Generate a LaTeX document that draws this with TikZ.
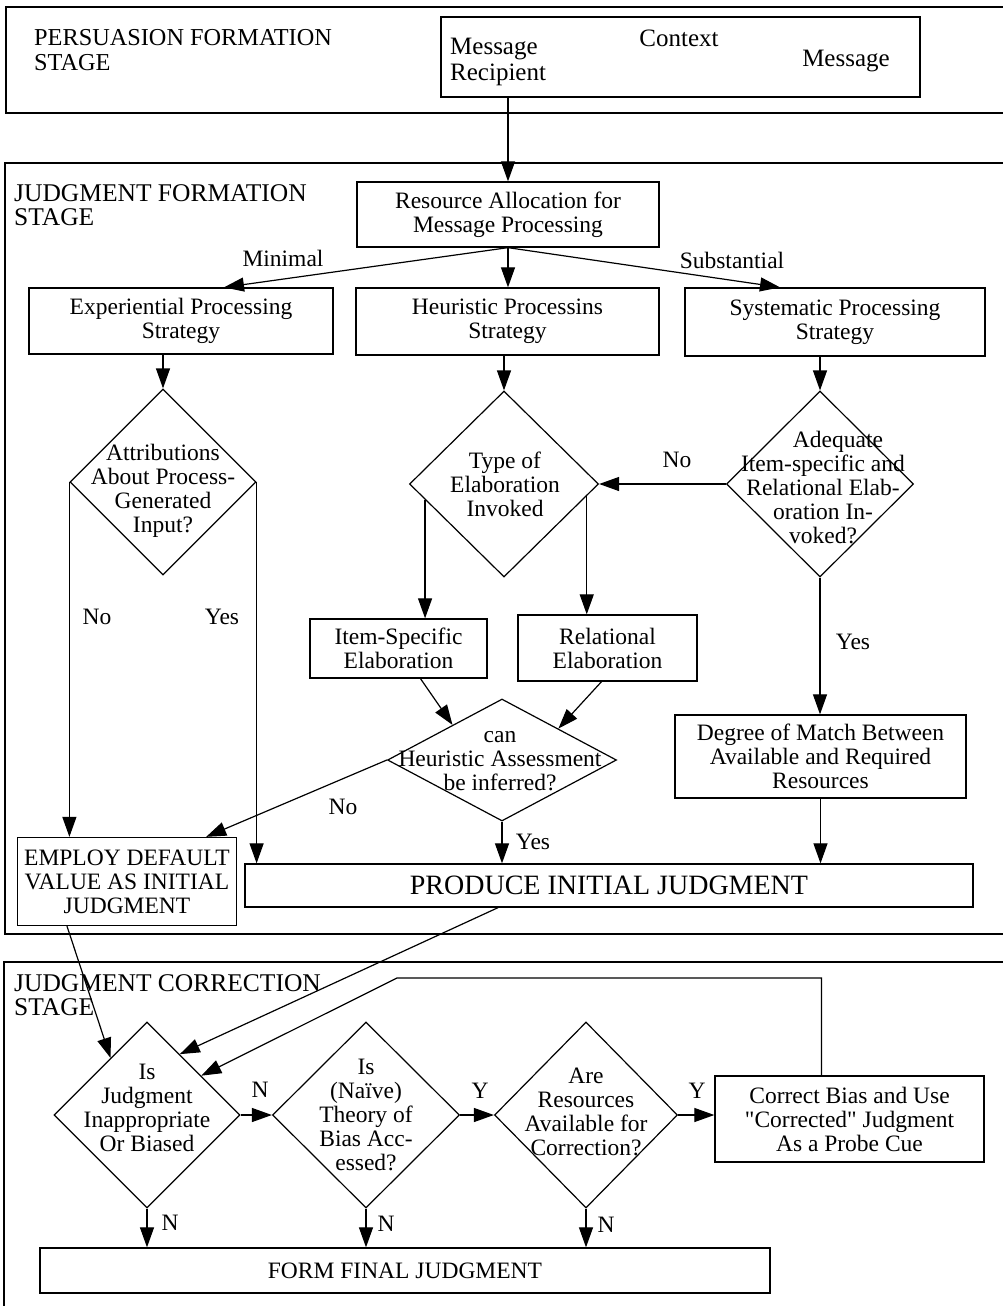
\documentclass[tikz,border=0pt]{standalone}
\usepackage{fontspec}
\setmainfont{Liberation Serif}
\usetikzlibrary{arrows.meta,shapes.geometric,calc}
\begin{document}
\begin{tikzpicture}[x=1pt,y=-1pt,
  every node/.style={font=\fontsize{23.5}{24}\selectfont},
  box/.style={draw, line width=1.3pt, inner sep=0pt, align=center},
  dia/.style={draw, shape=diamond, line width=1.2pt, inner sep=0pt},
  txt/.style={align=center, inner sep=0pt},
  lbl/.style={inner sep=0pt},
  big/.style={font=\fontsize{25}{26}\selectfont},
  stage/.style={align=left, inner sep=0pt, anchor=west, font=\fontsize{25.5}{24}\selectfont},
  arr/.style={line width=1.2pt, -{Triangle[length=20pt,width=14pt]}},
  frame/.style={line width=1.8pt}]
\useasboundingbox (0,0) rectangle (1003,1306);

% stage frames
\draw[frame] (1003,7) -| (6,113) -- (1003,113);
\draw[frame] (1003,163) -| (5,934) -- (1003,934);
\draw[frame] (1003,962) -| (4,1306);

% stage labels
\node[stage, font=\fontsize{24.3}{24.5}\selectfont] (s1) at (34,50) {PERSUASION FORMATION\\STAGE};
\node[stage] (s2) at (14,205) {JUDGMENT FORMATION\\STAGE};
\node[stage] (s3) at (14,995) {JUDGMENT CORRECTION\\STAGE};

% persuasion box
\node[box, minimum width=479pt, minimum height=80pt] (ctx) at (680.5,57) {};
\node[txt, big, align=left, anchor=west] (mr) at (450,62) {Message\\Recipient};
\node[lbl, big] (cx) at (679,38) {Context};
\node[lbl, big] (ms) at (846,61) {Message};

% judgment formation
\node[box, minimum width=302pt, minimum height=65pt] (res) at (508,214.5) {Resource Allocation for\\Message Processing};
\node[box, minimum width=304pt, minimum height=66pt] (exp) at (181,321) {Experiential Processing\\Strategy};
\node[box, minimum width=303pt, minimum height=67pt] (heu) at (507.5,321.5) {Heuristic Processins\\Strategy};
\node[box, minimum width=300pt, minimum height=68pt] (sys) at (835,322) {Systematic Processing\\Strategy};

\node[dia, minimum width=186pt, minimum height=186pt] (A) at (163,482) {};
\node[txt] (At) at (163,491) {Attributions\\About Process-\\Generated\\Input?};
\node[dia, minimum width=189pt, minimum height=186pt] (B) at (504,484) {};
\node[txt] (Bt) at (505,484) {Type of\\Elaboration\\Invoked};
\node[dia, minimum width=187pt, minimum height=186pt] (C) at (820,484) {};
\node[txt] (Ct) at (823,488) {\hspace*{30pt}Adequate\\Item-specific and\\Relational Elab-\\oration In-\\voked?};

\node[box, minimum width=177pt, minimum height=59pt] (item) at (398.5,648.5) {Item-Specific\\Elaboration};
\node[box, minimum width=179pt, minimum height=66pt] (rel) at (607.5,648) {Relational\\Elaboration};

\node[dia, minimum width=229pt, minimum height=122pt] (D) at (502,760) {};
\node[txt] (Dt) at (500,761) {can\\Heuristic Assessment\\be inferred?};

\node[box, minimum width=291pt, minimum height=83pt] (deg) at (820.5,756.5) {Degree of Match Between\\Available and Required\\Resources};

\node[box, minimum width=219pt, minimum height=88pt] (emp) at (127,881.5) {EMPLOY DEFAULT\\VALUE AS INITIAL\\JUDGMENT};
\node[box, minimum width=728pt, minimum height=43pt, font=\fontsize{28}{28}\selectfont] (prod) at (609,885.5) {PRODUCE INITIAL JUDGMENT};

% judgment correction
\node[dia, minimum width=186pt, minimum height=186pt] (E) at (147,1115) {};
\node[txt] (Et) at (147,1108) {Is\\Judgment\\Inappropriate\\Or Biased};
\node[dia, minimum width=187pt, minimum height=186pt] (F) at (366,1115) {};
\node[txt] (Ft) at (366,1115) {Is\\(Naïve)\\Theory of\\Bias Acc-\\essed?};
\node[dia, minimum width=183pt, minimum height=186pt] (G) at (586,1115) {};
\node[txt] (Gt) at (586,1112) {Are\\Resources\\Available for\\Correction?};
\node[box, minimum width=269pt, minimum height=86pt] (corr) at (849.5,1119) {Correct Bias and Use\\\textquotedbl Corrected\textquotedbl{} Judgment\\As a Probe Cue};
\node[box, minimum width=730pt, minimum height=45pt] (fin) at (405,1270.5) {FORM FINAL JUDGMENT};

% connectors: top
\draw[arr] (res.north |- ctx.south) -- (res.north);
\draw[arr] (res.south) -- ($(exp.north)+(43,0)$);
\draw[arr] (res.south) -- (res.south |- heu.north);
\draw[arr] (res.south) -- ($(sys.north)+(-55,0)$);
\node[lbl] (lmin) at (283,258) {Minimal};
\node[lbl] (lsub) at (732,260) {Substantial};

\draw[arr] (A.north |- exp.south) -- (A.north);
\draw[arr] (B.north |- heu.south) -- (B.north);
\draw[arr] (C.north |- sys.south) -- (C.north);

\draw[arr] (A.west) -- (A.west |- emp.north);
\draw[arr] (A.east) -- (A.east |- prod.north);
\node[lbl] (lno1) at (97,617) {No};
\node[lbl] (lyes1) at (222,617) {Yes};

\coordinate (bl) at ($(B.west)!0.17!(B.south)$);
\coordinate (br) at ($(B.east)!0.13!(B.south)$);
\draw[arr] (bl) -- (bl |- item.north);
\draw[arr] (br) -- (br |- rel.north);

\draw[arr] (C.west) -- (B.east);
\node[lbl] (lno2) at (677,460) {No};
\draw[arr] (C.south) -- (C.south |- deg.north);
\node[lbl] (lyes2) at (853,642) {Yes};
\draw[arr] (deg.south) -- (deg.south |- prod.north);

\draw[arr] ($(item.south)+(22,0)$) -- ($(D.west)!0.57!(D.north)$);
\draw[arr] ($(rel.south)+(-6,0)$) -- ($(D.north)!0.49!(D.east)$);
\draw[arr] (D.west) -- ($(emp.north east)+(-31,0)$);
\node[lbl] (lno3) at (343,807) {No};
\draw[arr] (D.south) -- (D.south |- prod.north);
\node[lbl] (lyes3) at (533,842) {Yes};

% into correction stage
\draw[arr] ($(emp.south)+(-60,0)$) -- ($(E.north)!0.39!(E.west)$);
\draw[arr] ($(prod.south)+(-111,0)$) -- ($(E.north)!0.35!(E.east)$);
\coordinate (fb) at (397,978);
\draw[arr] ($(corr.north)+(-28,0)$) |- (fb) -- ($(E.north)!0.58!(E.east)$);

\draw[arr] (E.east) -- (F.west);
\draw[arr] (F.east) -- (G.west);
\draw[arr] (G.east) -- (corr.west |- G.east);
\node[lbl] (ln1) at (260,1090) {N};
\node[lbl] (ly1) at (480,1091) {Y};
\node[lbl] (ly2) at (697,1091) {Y};

\draw[arr] (E.south) -- (E.south |- fin.north);
\draw[arr] (F.south) -- (F.south |- fin.north);
\draw[arr] (G.south) -- (G.south |- fin.north);
\node[lbl] (ln2) at (170,1223) {N};
\node[lbl] (ln3) at (386,1224) {N};
\node[lbl] (ln4) at (606,1225) {N};
\end{tikzpicture}
\end{document}
